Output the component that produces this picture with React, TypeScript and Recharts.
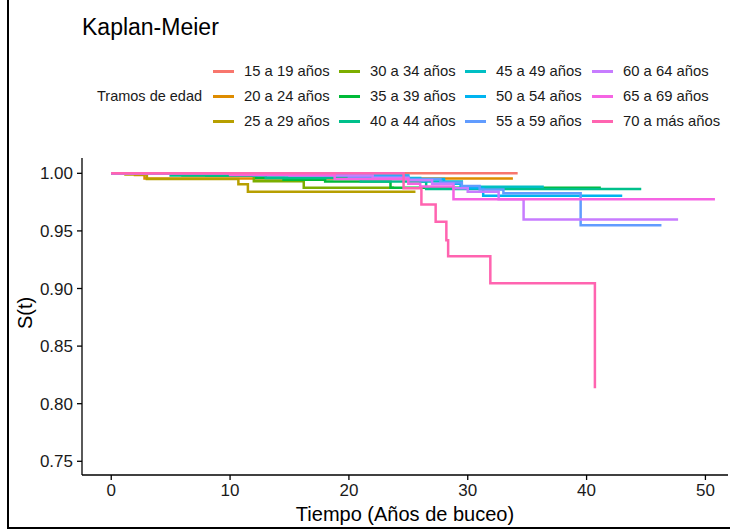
import React from "react";
import { LineChart, Line, XAxis, YAxis } from "recharts";

// age groups, ggplot hue palette
const groups = [
  "15 a 19 años", "20 a 24 años", "25 a 29 años",
  "30 a 34 años", "35 a 39 años", "40 a 44 años",
  "45 a 49 años", "50 a 54 años", "55 a 59 años",
  "60 a 64 años", "65 a 69 años", "70 a más años",
];
const colors = [
  "#F8766D", "#DE8C00", "#B79F00", "#7CAE00", "#00BA38", "#00C08B",
  "#00BFC4", "#00B4F0", "#619CFF", "#C77CFF", "#F564E3", "#FF64B0",
];

// step times (years) and survival estimates
const t15 = [0, 34.2];
const s15 = [1, 1];
const t20 = [0, 2.0, 2.8, 33.8];
const s20 = [1, 0.9985, 0.9955, 0.9955];
const t25 = [0, 1.2, 3.0, 10.7, 11.5, 25.6];
const s25 = [1, 0.999, 0.995, 0.9905, 0.984, 0.984];
const t30 = [0, 6, 12, 16.2, 23.8];
const s30 = [1, 0.998, 0.9932, 0.9875, 0.9875];
const t35 = [0, 8, 12.2, 14.5, 18, 23.5, 41.2];
const s35 = [1, 0.998, 0.996, 0.9945, 0.993, 0.9875, 0.9875];
const t40 = [0, 5, 13, 21, 26.5, 44.6];
const s40 = [1, 0.998, 0.996, 0.993, 0.9863, 0.9863];
const t45 = [0, 12, 20, 26, 29.5, 36.4];
const s45 = [1, 0.998, 0.996, 0.993, 0.9884, 0.9884];
const t50 = [0, 18, 25, 28, 29.4, 31.3, 43.0];
const s50 = [1, 0.998, 0.995, 0.991, 0.987, 0.9806, 0.9806];
const t55 = [0, 20, 25, 27.7, 29.5, 31, 33, 39.5, 46.3];
const s55 = [1, 0.997, 0.995, 0.992, 0.989, 0.986, 0.9826, 0.955, 0.955];
const t60 = [0, 15, 22, 25, 27, 28.8, 30, 32.6, 34.7, 47.7];
const s60 = [1, 0.998, 0.996, 0.994, 0.991, 0.987, 0.984, 0.9775, 0.96, 0.96];
const t65 = [0, 10, 18.8, 25, 26, 28.8, 50.8];
const s65 = [1, 0.9985, 0.995, 0.991, 0.9885, 0.9775, 0.9775];
const t70 = [0, 24.6, 26.1, 27.3, 28.2, 28.35, 31.9, 40.7];
const s70 = [1, 0.987, 0.973, 0.958, 0.942, 0.928, 0.9045, 0.8134];

const times = [t15, t20, t25, t30, t35, t40, t45, t50, t55, t60, t65, t70];
const surv = [s15, s20, s25, s30, s35, s40, s45, s50, s55, s60, s65, s70];

const xTicks = [0, 10, 20, 30, 40, 50];
const yTicks = [0.75, 0.8, 0.85, 0.9, 0.95, 1];

const series = groups.map((name, i) => ({
  name,
  color: colors[i],
  data: times[i].map((t, j) => ({ t, s: surv[i][j] })),
}));

const font = "'Liberation Sans', Arial, sans-serif";
const ink = "#1a1a1a";

const legendCols = [213, 339, 465, 592];
const legendRows = [71, 96, 121];

function Legend() {
  return (
    <>
      <div style={{ position: "absolute", left: 97, top: 96 - 7, fontSize: 14.5, lineHeight: 1, color: ink, whiteSpace: "nowrap" }}>
        Tramos de edad
      </div>
      {series.map((s, i) => {
        const col = Math.floor(i / 3);
        const row = i % 3;
        const x = legendCols[col];
        const y = legendRows[row];
        return (
          <React.Fragment key={s.name}>
            <div style={{ position: "absolute", left: x, top: y - 1.5, width: 21, height: 3, background: s.color }} />
            <div style={{ position: "absolute", left: x + 31, top: y - 7.3, fontSize: 14.8, lineHeight: 1, color: ink, whiteSpace: "nowrap" }}>
              {s.name}
            </div>
          </React.Fragment>
        );
      })}
    </>
  );
}

export default function App() {
  return (
    <div style={{ position: "absolute", left: 0, top: 0, width: 730, height: 529, background: "#fff", fontFamily: font, overflow: "hidden" }}>
      <LineChart width={730} height={529} margin={{ top: 158, right: 2, bottom: 0, left: 0 }}>
        <XAxis
          dataKey="t"
          type="number"
          domain={[-2.46, 51.9]}
          ticks={xTicks}
          allowDataOverflow
          height={54}
          tickSize={5}
          tickMargin={4}
          axisLine={{ stroke: "#000", strokeWidth: 1.3 }}
          tickLine={{ stroke: "#000", strokeWidth: 1.3 }}
          tick={{ fill: ink, fontSize: 17, fontFamily: font }}
        />
        <YAxis
          type="number"
          domain={[0.7381, 1.0133]}
          ticks={yTicks}
          allowDataOverflow
          width={82}
          tickSize={5}
          tickMargin={4}
          tickFormatter={(v: number) => v.toFixed(2)}
          axisLine={{ stroke: "#000", strokeWidth: 1.3 }}
          tickLine={{ stroke: "#000", strokeWidth: 1.3 }}
          tick={{ fill: ink, fontSize: 17, fontFamily: font }}
        />
        {series.map((s) => (
          <Line
            key={s.name}
            data={s.data}
            dataKey="s"
            name={s.name}
            type="stepAfter"
            stroke={s.color}
            strokeWidth={2.5}
            dot={false}
            activeDot={false}
            isAnimationActive={false}
          />
        ))}
      </LineChart>

      <div style={{ position: "absolute", left: 82, top: 27 - 11.3, fontSize: 23, lineHeight: 1, color: "#000", whiteSpace: "nowrap" }}>
        Kaplan-Meier
      </div>
      <Legend />
      <div style={{ position: "absolute", left: 405, top: 514, transform: "translate(-50%, -50%)", fontSize: 20, lineHeight: 1, color: "#000", whiteSpace: "nowrap" }}>
        Tiempo (Años de buceo)
      </div>
      <div style={{ position: "absolute", left: 25, top: 313, transform: "translate(-50%, -50%) rotate(-90deg)", fontSize: 20, lineHeight: 1, color: "#000", whiteSpace: "nowrap" }}>
        S(t)
      </div>
      {/* frame */}
      <div style={{ position: "absolute", left: 7, top: 0, width: 1.5, height: 529, background: "#000" }} />
      <div style={{ position: "absolute", left: 7, top: 527, width: 723, height: 1.5, background: "#000" }} />
    </div>
  );
}
